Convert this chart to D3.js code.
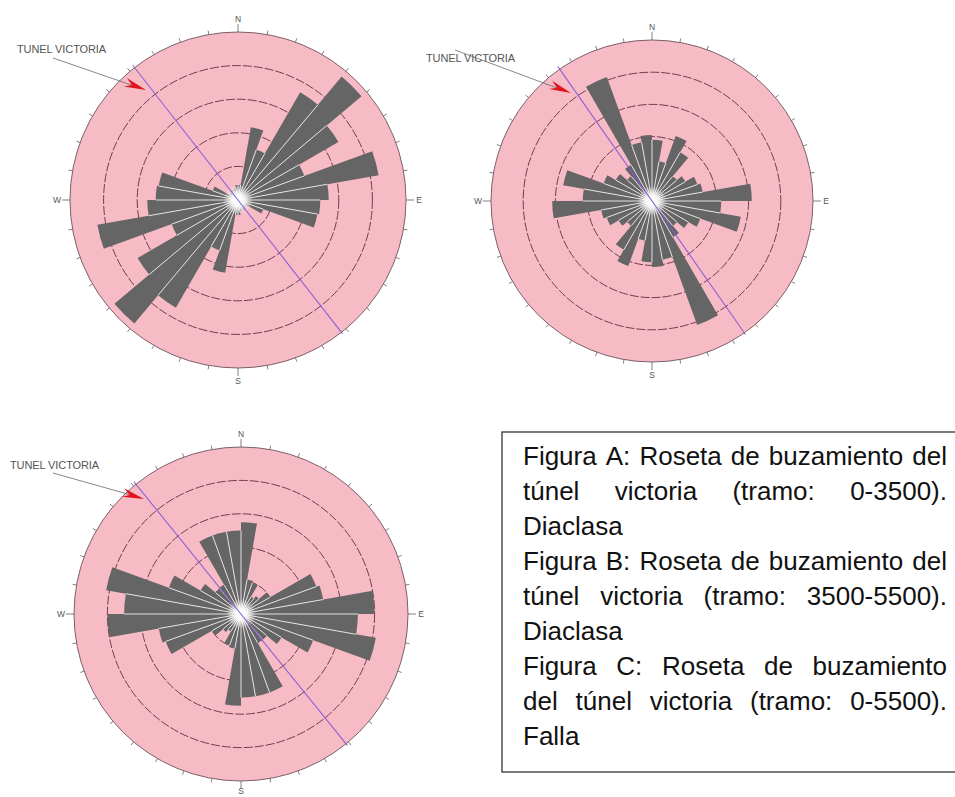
<!DOCTYPE html>
<html><head><meta charset="utf-8">
<script src="https://cdn.jsdelivr.net/npm/d3@7"></script>
<style>body{margin:0;background:#fff}svg{display:block}</style>
</head><body>
<svg id="c" width="955" height="797"></svg>
<script>
// ---------- DATA ----------
// rose sectors (start azimuth, degrees); each sector is drawn bidirectionally (s and s+180)
const sectorStart = [0,10,20,30,40,50,60,70,80,90,100,110,120,130,140,150,160,170];
const binWidth = 10;
// Figure A: Diaclasa, tramo 0-3500 (values in ring units)
const roseA = [0.45,2.2,1.6,3.7,4.8,3.45,2.1,4.25,2.7,2.45,2.4,0.8,0.3,0.3,0.35,0.3,0.35,0.45];
// Figure B: Diaclasa, tramo 3500-5500
const roseB = [1.9,1.25,2.15,1.75,1.0,1.2,1.5,1.6,3.1,2.15,2.8,1.6,1.3,1.0,1.3,4.1,1.85,2.05];
// Figure C: Falla, tramo 0-5500
const roseC = [2.75,1.05,1.0,0.6,0.7,1.0,2.4,2.5,4.0,3.5,4.1,2.3,1.4,1.0,1.0,2.5,2.5,2.5];
const ringValues = [1,2,3,4];
const maxValue = 5;
const cardinals = ["N","E","S","W"];
const cardinalAz = [0,90,180,270];
const tunnelAzimuth = [322,325,321];
const tunnelLabel = "TUNEL VICTORIA";
const captionLines = [
  "Figura A: Roseta de buzamiento del",
  "túnel victoria (tramo: 0-3500).",
  "Diaclasa",
  "Figura B: Roseta de buzamiento del",
  "túnel victoria (tramo: 3500-5500).",
  "Diaclasa",
  "Figura C: Roseta de buzamiento",
  "del túnel victoria (tramo: 0-5500).",
  "Falla"
];
const captionJustify = [true,true,false,true,true,false,true,true,false];

// ---------- LAYOUT / STYLE ----------
const PINK = "#f7bbc6", BAR = "#656565", RING = "#5e3040", EDGE = "#7a6068";
const FONT = "'Liberation Sans', Arial, sans-serif";
const panels = [
  {vals: roseA, az: tunnelAzimuth[0], cx: 238, cy: 200, R: 168,
   label: {x: 17, y: 53}, arrow: {x1: 53, y1: 58, x2: 146, y2: 90}},
  {vals: roseB, az: tunnelAzimuth[1], cx: 652, cy: 201, R: 161,
   label: {x: 426, y: 62}, arrow: {x1: 455, y1: 50, x2: 571, y2: 93}},
  {vals: roseC, az: tunnelAzimuth[2], cx: 241, cy: 614, R: 167,
   label: {x: 10, y: 469}, arrow: {x1: 53, y1: 473, x2: 144, y2: 499}}
];
const H = 797;

const svg = d3.select("#c");
const defs = svg.append("defs");
const glow = defs.append("radialGradient").attr("id", "glow");
glow.append("stop").attr("offset", "0%").attr("stop-color", "#fff").attr("stop-opacity", 1);
glow.append("stop").attr("offset", "40%").attr("stop-color", "#fff").attr("stop-opacity", 0.85);
glow.append("stop").attr("offset", "100%").attr("stop-color", "#fff").attr("stop-opacity", 0);

const angle = d3.scaleLinear().domain([0, 360]).range([0, 2 * Math.PI]);
const polar = (rad, az) => [rad * Math.sin(angle(az)), -rad * Math.cos(angle(az))];

function drawRose(p) {
  const g = svg.append("g").attr("transform", `translate(${p.cx},${p.cy})`);
  const r = d3.scaleLinear().domain([0, maxValue]).range([0, p.R]);

  g.append("circle").attr("r", r(maxValue)).attr("fill", PINK);
  g.selectAll(".ring").data(ringValues).join("circle").attr("class", "ring")
    .attr("r", d => r(d)).attr("fill", "none").attr("stroke", RING)
    .attr("stroke-width", 0.9).attr("stroke-dasharray", "9,2");

  const petals = [];
  [0, 180].forEach(off => sectorStart.forEach((s, i) =>
    petals.push({a0: s + off, a1: s + off + binWidth, v: p.vals[i]})));
  const arc = d3.arc().innerRadius(0).outerRadius(d => r(d.v))
    .startAngle(d => angle(d.a0)).endAngle(d => angle(d.a1));
  g.selectAll(".petal").data(petals).join("path").attr("class", "petal")
    .attr("d", arc).attr("fill", BAR);

  const seps = petals.map((d, k) => ({a: d.a0, v: Math.min(d.v, petals[(k + petals.length - 1) % petals.length].v)}));
  g.selectAll(".sep").data(seps).join("line").attr("class", "sep")
    .attr("x1", 0).attr("y1", 0)
    .attr("x2", d => polar(r(d.v), d.a)[0]).attr("y2", d => polar(r(d.v), d.a)[1])
    .attr("stroke", "#e2e2e2").attr("stroke-width", 1);

  g.append("circle").attr("r", 15).attr("fill", "url(#glow)");

  // tunnel line
  const e1 = polar(r(maxValue) + 3, p.az), e2 = polar(r(maxValue) + 2, p.az + 180);
  g.append("line").attr("x1", e1[0]).attr("y1", e1[1]).attr("x2", e2[0]).attr("y2", e2[1])
    .attr("stroke", "#8458d6").attr("stroke-width", 1.1).attr("opacity", 0.9);

  g.append("circle").attr("r", r(maxValue)).attr("fill", "none").attr("stroke", EDGE).attr("stroke-width", 1);

  // ticks
  const ticks = d3.range(0, 360, 10);
  g.selectAll(".tick").data(ticks).join("line").attr("class", "tick")
    .attr("x1", d => polar(r(maxValue), d)[0]).attr("y1", d => polar(r(maxValue), d)[1])
    .attr("x2", d => polar(r(maxValue) + (d % 90 === 0 ? 8 : 4), d)[0])
    .attr("y2", d => polar(r(maxValue) + (d % 90 === 0 ? 8 : 4), d)[1])
    .attr("stroke", "#6a5a5e").attr("stroke-width", 0.8);

  g.selectAll(".card").data(cardinals).join("text").attr("class", "card")
    .attr("x", (d, i) => polar(r(maxValue) + 13, cardinalAz[i])[0])
    .attr("y", (d, i) => Math.min(polar(r(maxValue) + 13, cardinalAz[i])[1], H - 6 - p.cy))
    .attr("text-anchor", "middle").attr("dominant-baseline", "central")
    .attr("font-family", FONT).attr("font-size", 8.5).attr("fill", "#555").text(d => d);

  // label and arrow
  svg.append("text").attr("x", p.label.x).attr("y", p.label.y)
    .attr("font-family", FONT).attr("font-size", 11).attr("fill", "#555")
    .attr("letter-spacing", -0.1).text(tunnelLabel);
  const a = p.arrow;
  svg.append("line").attr("x1", a.x1).attr("y1", a.y1).attr("x2", a.x2 - 6).attr("y2", a.y2 - 2)
    .attr("stroke", "#6a6a6a").attr("stroke-width", 0.8);
  const ang = Math.atan2(a.y2 - a.y1, a.x2 - a.x1) * 180 / Math.PI;
  svg.append("path").attr("d", "M0,0 L-22,-5 L-15,0 L-22,4 Z")
    .attr("transform", `translate(${a.x2},${a.y2}) rotate(${ang})`)
    .attr("fill", "#e0141e");
}
panels.forEach(drawRose);

// caption box
const cap = svg.append("g");
cap.append("rect").attr("x", 502).attr("y", 432).attr("width", 480).attr("height", 340)
  .attr("fill", "none").attr("stroke", "#333").attr("stroke-width", 1.3);
const left = 523, right = 947;
captionLines.forEach((ln, i) => {
  const y = 465 + i * 35;
  const mk = (x, t) => cap.append("text").attr("x", x).attr("y", y)
    .attr("font-family", FONT).attr("font-size", 26).attr("fill", "#111").text(t);
  if (!captionJustify[i]) { mk(left, ln); return; }
  const words = ln.split(" ");
  const widths = words.map(w => { const t = mk(0, w); const l = t.node().getComputedTextLength(); t.remove(); return l; });
  const gap = (right - left - d3.sum(widths)) / (words.length - 1);
  let x = left;
  words.forEach((w, j) => { mk(x, w); x += widths[j] + gap; });
});
</script>
</body></html>
